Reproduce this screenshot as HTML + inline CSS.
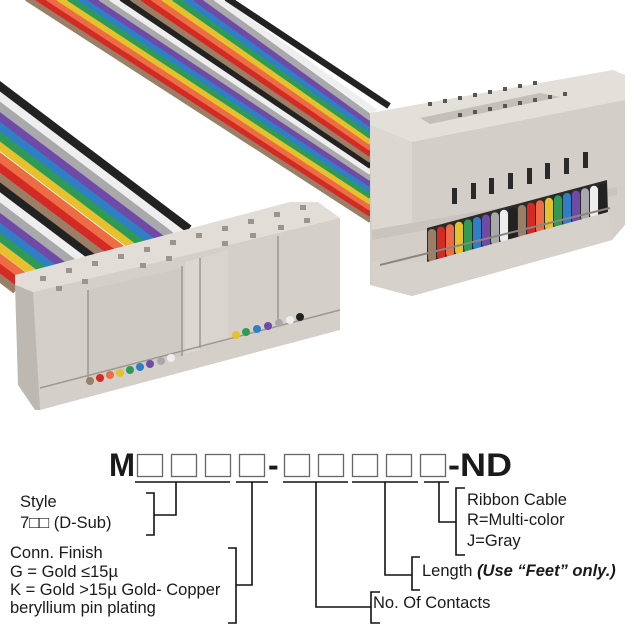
<!DOCTYPE html>
<html><head><meta charset="utf-8"><style>
html,body{margin:0;padding:0;background:#fff;}
svg{display:block;}
text{font-family:"Liberation Sans",sans-serif;fill:#1a1a1a;}
</style></head><body>
<svg width="640" height="640" viewBox="0 0 640 640" xmlns="http://www.w3.org/2000/svg">
<rect width="640" height="640" fill="#fff"/>
<g id="back" stroke-linecap="butt" stroke-width="6.4">
<line x1="27" y1="-2" x2="371" y2="220" stroke="#9a7f66"/>
<line x1="37.5" y1="-2" x2="371" y2="214" stroke="#d32a24"/>
<line x1="48" y1="-2" x2="371" y2="208" stroke="#ec6d45"/>
<line x1="58.5" y1="-2" x2="371" y2="202" stroke="#e6c12b"/>
<line x1="69" y1="-2" x2="371" y2="196" stroke="#2f9a55"/>
<line x1="79.5" y1="-2" x2="371" y2="190" stroke="#2f7fc6"/>
<line x1="90" y1="-2" x2="371" y2="184" stroke="#6f4aa6"/>
<line x1="100.5" y1="-2" x2="371" y2="178" stroke="#a9a9ab"/>
<line x1="111" y1="-2" x2="371" y2="172" stroke="#eeeeee"/>
<line x1="121.5" y1="-2" x2="371" y2="166" stroke="#222"/>
<line x1="132" y1="-2" x2="371" y2="160" stroke="#9a7f66"/>
<line x1="142.5" y1="-2" x2="371" y2="154" stroke="#d32a24"/>
<line x1="153" y1="-2" x2="371" y2="148" stroke="#ec6d45"/>
<line x1="163.5" y1="-2" x2="371" y2="142" stroke="#e6c12b"/>
<line x1="174" y1="-2" x2="371" y2="136" stroke="#2f9a55"/>
<line x1="184.5" y1="-2" x2="371" y2="130" stroke="#2f7fc6"/>
<line x1="195" y1="-2" x2="371" y2="124" stroke="#6f4aa6"/>
<line x1="205.5" y1="-2" x2="371" y2="118" stroke="#a9a9ab"/>
<line x1="216" y1="-2" x2="375" y2="112" stroke="#eeeeee"/>
<line x1="226.5" y1="-2" x2="389" y2="106" stroke="#222"/>
</g>
<!-- right connector -->
<g>
<polygon points="370,120 625,88 625,225 612,240 412,296 370,285" fill="#d3cec7"/>
<polygon points="370,113 613,70 625,75 625,100 412,142 370,125" fill="#e3dfd9"/>
<polygon points="420,118 540,93 560,97 430,124" fill="#c4bfb8"/>
<polygon points="370,125 412,142 412,230 372,230" fill="#dcd8d1"/>
<polygon points="372,230 617,187 617,195 372,240" fill="#c9c4bd"/>
<polygon points="427,228 607,180 608,212 427,262" fill="#2b2b2b"/>
<g stroke="none">
<rect x="428" y="229" width="8" height="33" rx="4" fill="#9a7f66"/>
<rect x="437" y="226.6" width="8" height="33" rx="4" fill="#d32a24"/>
<rect x="446" y="224.2" width="8" height="33" rx="4" fill="#ec6d45"/>
<rect x="455" y="221.8" width="8" height="33" rx="4" fill="#e6c12b"/>
<rect x="464" y="219.4" width="8" height="33" rx="4" fill="#2f9a55"/>
<rect x="473" y="217" width="8" height="33" rx="4" fill="#2f7fc6"/>
<rect x="482" y="214.6" width="8" height="33" rx="4" fill="#6f4aa6"/>
<rect x="491" y="212.2" width="8" height="33" rx="4" fill="#a9a9ab"/>
<rect x="500" y="209.8" width="8" height="33" rx="4" fill="#eeeeee"/>
<rect x="509" y="207.4" width="8" height="33" rx="4" fill="#222"/>
<rect x="518" y="205" width="8" height="33" rx="4" fill="#9a7f66"/>
<rect x="527" y="202.6" width="8" height="33" rx="4" fill="#d32a24"/>
<rect x="536" y="200.2" width="8" height="33" rx="4" fill="#ec6d45"/>
<rect x="545" y="197.8" width="8" height="33" rx="4" fill="#e6c12b"/>
<rect x="554" y="195.4" width="8" height="33" rx="4" fill="#2f9a55"/>
<rect x="563" y="193" width="8" height="33" rx="4" fill="#2f7fc6"/>
<rect x="572" y="190.6" width="8" height="33" rx="4" fill="#6f4aa6"/>
<rect x="581" y="188.2" width="8" height="33" rx="4" fill="#a9a9ab"/>
<rect x="590" y="185.8" width="8" height="33" rx="4" fill="#eeeeee"/>
<rect x="599" y="183.4" width="8" height="33" rx="4" fill="#222"/>
</g>
<polygon points="372,262 427,262 608,212 612,240 412,296 372,285" fill="#d6d1ca"/>
<line x1="380" y1="265" x2="610" y2="208" stroke="#8a857f" stroke-width="2"/>
<g fill="#2a2a2a">
<rect x="452" y="188" width="5" height="16"/><rect x="471" y="183" width="5" height="16"/>
<rect x="489" y="178" width="5" height="16"/><rect x="508" y="173" width="5" height="16"/>
<rect x="527" y="168" width="5" height="16"/><rect x="545" y="163" width="5" height="16"/>
<rect x="564" y="158" width="5" height="16"/><rect x="583" y="152" width="5" height="16"/>
</g>
<g fill="#5a5650">
<rect x="428" y="102" width="4" height="4"/><rect x="443" y="99" width="4" height="4"/><rect x="458" y="96" width="4" height="4"/><rect x="473" y="93" width="4" height="4"/><rect x="488" y="90" width="4" height="4"/><rect x="503" y="87" width="4" height="4"/><rect x="518" y="84" width="4" height="4"/><rect x="533" y="81" width="4" height="4"/>
<rect x="458" y="113" width="4" height="4"/><rect x="473" y="110" width="4" height="4"/><rect x="488" y="107" width="4" height="4"/><rect x="503" y="104" width="4" height="4"/><rect x="518" y="101" width="4" height="4"/><rect x="533" y="98" width="4" height="4"/><rect x="548" y="95" width="4" height="4"/><rect x="563" y="92" width="4" height="4"/>
</g>
</g>
<!-- front ribbon -->
<g stroke-width="8.4">
<line x1="-303" y1="49" x2="16" y2="290" stroke="#9a7f66"/>
<line x1="-294" y1="46" x2="25" y2="287" stroke="#d32a24"/>
<line x1="-285" y1="43" x2="34" y2="284" stroke="#ec6d45"/>
<line x1="-276" y1="39" x2="43" y2="280" stroke="#e6c12b"/>
<line x1="-266" y1="36" x2="53" y2="277" stroke="#2f9a55"/>
<line x1="-257" y1="33" x2="62" y2="274" stroke="#2f7fc6"/>
<line x1="-248" y1="30" x2="71" y2="271" stroke="#6f4aa6"/>
<line x1="-239" y1="27" x2="80" y2="268" stroke="#a9a9ab"/>
<line x1="-230" y1="23" x2="89" y2="264" stroke="#eeeeee"/>
<line x1="-221" y1="20" x2="98" y2="261" stroke="#222"/>
<line x1="-212" y1="17" x2="107" y2="258" stroke="#9a7f66"/>
<line x1="-203" y1="14" x2="116" y2="255" stroke="#d32a24"/>
<line x1="-194" y1="11" x2="125" y2="252" stroke="#ec6d45"/>
<line x1="-184" y1="7" x2="135" y2="248" stroke="#e6c12b"/>
<line x1="-175" y1="4" x2="144" y2="245" stroke="#2f9a55"/>
<line x1="-166" y1="1" x2="153" y2="242" stroke="#2f7fc6"/>
<line x1="-157" y1="-2" x2="162" y2="239" stroke="#6f4aa6"/>
<line x1="-148" y1="-5" x2="171" y2="236" stroke="#a9a9ab"/>
<line x1="-139" y1="-9" x2="180" y2="232" stroke="#eeeeee"/>
<line x1="-130" y1="-12" x2="189" y2="229" stroke="#222"/>
</g>
<!-- left connector -->
<g>
<polygon points="15,275 290,202 318,202 340,218 33,292 15,285" fill="#e2ded7"/>
<polygon points="33,292 340,218 340,330 40,410 33,400" fill="#d4cfc8"/>
<polygon points="15,285 33,292 40,410 35,410 18,385" fill="#bdb8b1"/>
<polygon points="88,290 182,268 182,356 88,382" fill="#cfcac3"/>
<polygon points="185,262 200,258 200,350 185,354" fill="#dcd8d1"/>
<polygon points="200,258 228,250 228,340 200,348" fill="#d9d4cd"/>
<g stroke="#9d9891" stroke-width="1.5">
<line x1="88" y1="290" x2="88" y2="382"/><line x1="182" y1="266" x2="182" y2="356"/>
<line x1="200" y1="258" x2="200" y2="348"/><line x1="278" y1="236" x2="278" y2="322"/>
<line x1="40" y1="388" x2="340" y2="310"/>
</g>
<g stroke-width="0">
<circle cx="90" cy="381" r="4" fill="#9a7f66"/><circle cx="100" cy="378" r="4" fill="#d32a24"/><circle cx="110" cy="375" r="4" fill="#ec6d45"/><circle cx="120" cy="373" r="4" fill="#e6c12b"/><circle cx="130" cy="370" r="4" fill="#2f9a55"/><circle cx="140" cy="367" r="4" fill="#2f7fc6"/><circle cx="150" cy="364" r="4" fill="#6f4aa6"/><circle cx="161" cy="361" r="4" fill="#a9a9ab"/><circle cx="171" cy="358" r="4" fill="#eeeeee"/>
<circle cx="236" cy="335" r="4" fill="#e6c12b"/><circle cx="246" cy="332" r="4" fill="#2f9a55"/><circle cx="257" cy="329" r="4" fill="#2f7fc6"/><circle cx="268" cy="326" r="4" fill="#6f4aa6"/><circle cx="279" cy="323" r="4" fill="#a9a9ab"/><circle cx="290" cy="320" r="4" fill="#eeeeee"/><circle cx="300" cy="317" r="4" fill="#222"/>
</g>
<g fill="#9a958e">
<rect x="40" y="276" width="6" height="5"/><rect x="66" y="268" width="6" height="5"/><rect x="92" y="261" width="6" height="5"/><rect x="118" y="254" width="6" height="5"/><rect x="144" y="247" width="6" height="5"/><rect x="170" y="240" width="6" height="5"/><rect x="196" y="233" width="6" height="5"/><rect x="222" y="226" width="6" height="5"/><rect x="248" y="219" width="6" height="5"/><rect x="274" y="212" width="6" height="5"/><rect x="300" y="205" width="6" height="5"/>
<rect x="56" y="286" width="6" height="5"/><rect x="82" y="279" width="6" height="5"/><rect x="140" y="263" width="6" height="5"/><rect x="166" y="256" width="6" height="5"/><rect x="222" y="241" width="6" height="5"/><rect x="250" y="233" width="6" height="5"/><rect x="278" y="225" width="6" height="5"/><rect x="304" y="218" width="6" height="5"/>
</g>
</g>
<!-- diagram -->
<text x="109" y="476" font-size="32" font-weight="bold" textLength="26" lengthAdjust="spacingAndGlyphs">M</text>
<g fill="#fff" stroke="#666" stroke-width="1.3">
<rect x="137.5" y="454.5" width="25" height="22"/><rect x="171.5" y="454.5" width="25" height="22"/><rect x="205.5" y="454.5" width="25" height="22"/><rect x="239.5" y="454.5" width="25" height="22"/>
<rect x="284.5" y="454.5" width="25" height="22"/><rect x="318.5" y="454.5" width="25" height="22"/><rect x="352.5" y="454.5" width="25" height="22"/><rect x="386.5" y="454.5" width="25" height="22"/><rect x="420.5" y="454.5" width="25" height="22"/>
</g>
<text x="268" y="476" font-size="32" font-weight="bold">-</text>
<text x="448" y="476" font-size="32" font-weight="bold" textLength="64" lengthAdjust="spacingAndGlyphs">-ND</text>
<g stroke="#111" stroke-width="1.6" fill="none">
<line x1="135" y1="482" x2="230" y2="482"/><line x1="236" y1="482" x2="268" y2="482"/>
<line x1="283" y1="482" x2="348" y2="482"/><line x1="352" y1="482" x2="418" y2="482"/><line x1="424" y1="482" x2="449" y2="482"/>
<polyline points="176,482 176,515 154,515"/>
<polyline points="146,493 154,493 154,535 146,535"/>
<polyline points="252,482 252,585 236,585"/>
<polyline points="228,548 236,548 236,623 228,623"/>
<polyline points="316,482 316,607 371,607"/>
<polyline points="380,592 371,592 371,623 380,623"/>
<polyline points="385,482 385,575 412,575"/>
<polyline points="420,557 412,557 412,590 420,590"/>
<polyline points="439,482 439,522 456,522"/>
<polyline points="465,488 456,488 456,555 465,555"/>
</g>
<g font-size="16.5">
<text x="20" y="507">Style</text>
<text x="20" y="528">7□□ (D-Sub)</text>
<text x="10" y="558">Conn. Finish</text>
<text x="10" y="577">G = Gold ≤15µ</text>
<text x="10" y="595">K = Gold &gt;15µ Gold- Copper</text>
<text x="10" y="613">beryllium pin plating</text>
<text x="373" y="608">No. Of Contacts</text>
<text x="422" y="576">Length <tspan font-weight="bold" font-style="italic">(Use “Feet” only.)</tspan></text>
<text x="467" y="505">Ribbon Cable</text>
<text x="467" y="525">R=Multi-color</text>
<text x="467" y="546">J=Gray</text>
</g>
</svg>
</body></html>
